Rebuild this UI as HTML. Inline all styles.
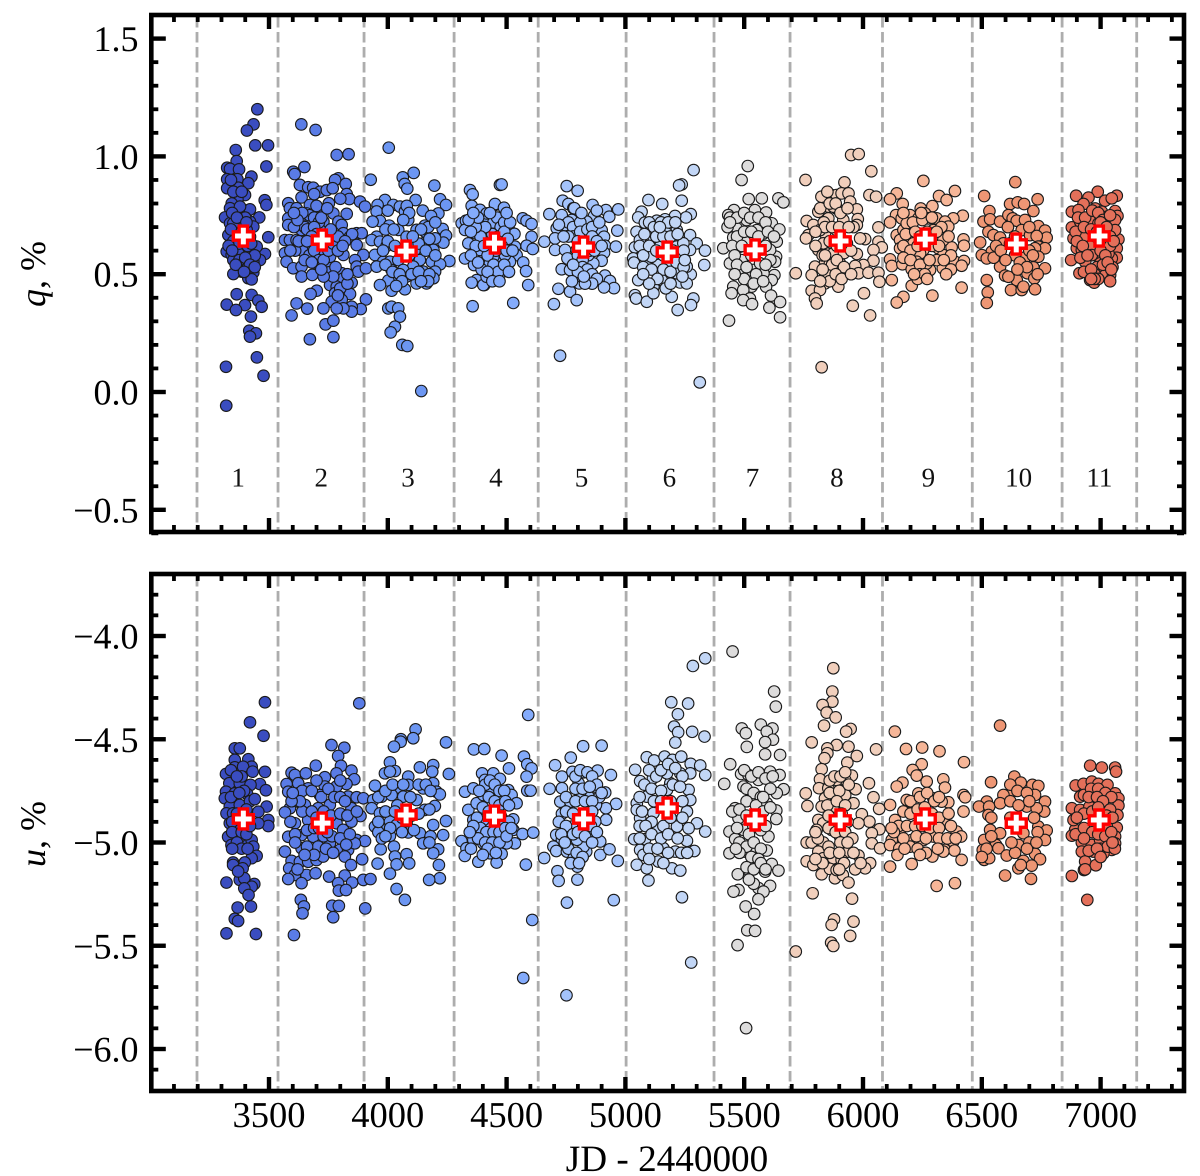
<!DOCTYPE html>
<html lang="en">
<head>
<meta charset="utf-8">
<title>q and u polarization versus JD</title>
<style>
html,body{margin:0;padding:0;background:#fff;}
svg{display:block;font-family:"Liberation Serif",serif;text-rendering:geometricPrecision;}
</style>
</head>
<body>
<svg id="chart" xmlns="http://www.w3.org/2000/svg" width="1200" height="1176" viewBox="0 0 1200 1176">
<rect width="1200" height="1176" fill="#fff"/>
<g id="season-lines"></g>
<g id="points"></g>
<g id="means"></g>
<g id="labels"></g>
<g id="axes"></g>
<rect x="151.3" y="15" width="1032.7" height="517" fill="none" stroke="#000" stroke-width="4.6"/>
<rect x="151.3" y="574" width="1032.7" height="517" fill="none" stroke="#000" stroke-width="4.6"/>
<text transform="translate(45,274) rotate(-90)" text-anchor="middle" font-size="36" fill="#000"><tspan font-style="italic">q</tspan>, %</text>
<text transform="translate(45,834) rotate(-90)" text-anchor="middle" font-size="36" fill="#000"><tspan font-style="italic">u</tspan>, %</text>
<text x="667" y="1171" text-anchor="middle" font-size="37.2" fill="#000">JD - 2440000</text>
</svg>
<script>
const xMajorTicks=[3500,4000,4500,5000,5500,6000,6500,7000];
const xMinorTicks=[3100,3200,3300,3400,3600,3700,3800,3900,4100,4200,4300,4400,4600,4700,4800,4900,5100,5200,5300,5400,5600,5700,5800,5900,6100,6200,6300,6400,6600,6700,6800,6900,7100,7200,7300];
const qMajorTicks=[1.5,1,0.5,0,-0.5];
const qTickLabels=['1.5','1.0','0.5','0.0','\u22120.5'];
const qMinorTicks=[1.4,1.3,1.2,1.1,0.9,0.8,0.7,0.6,0.4,0.3,0.2,0.1,-0.1,-0.2,-0.3,-0.4,-0.6];
const uMajorTicks=[-4,-4.5,-5,-5.5,-6];
const uTickLabels=['\u22124.0','\u22124.5','\u22125.0','\u22125.5','\u22126.0'];
const uMinorTicks=[-3.7,-3.8,-3.9,-4.1,-4.2,-4.3,-4.4,-4.6,-4.7,-4.8,-4.9,-5.1,-5.2,-5.3,-5.4,-5.6,-5.7,-5.8,-5.9,-6.1];
const seasonBoundaries=[3197,3538,3900,4279,4633,5003,5373,5693,6082,6460,6838,7152];
const seasonNames=['1','2','3','4','5','6','7','8','9','10','11'];
const seasonLabelJD=[3370,3720,4085,4455,4815,5185,5535,5890,6275,6655,6995];
const seasonLabelQ=-0.36;
const seasonColors=['#3a4dc0','#5a7ce6','#6c96f2','#84abfb','#a4c3fb','#c2d6f6','#dddcdc','#f1cfbc','#f6b698','#ee9674','#e4705a'];
const meanJD=[3392,3724,4077,4449,4824,5176,5546,5904,6262,6645,6994];
const meanQ=[0.662,0.645,0.598,0.632,0.615,0.594,0.603,0.641,0.649,0.628,0.662];
const meanU=[-4.886,-4.906,-4.867,-4.872,-4.886,-4.833,-4.891,-4.891,-4.886,-4.906,-4.891];

const qS1=[[3451,1.2],[3435,1.136],[3407,1.11],[3442,1.047],[3496,1.047],[3360,1.027],[3364,.98],[3324,.952],[3336,.947],[3374,.945],[3489,.957],[3426,.914],[3324,.903],[3367,.903],[3413,.886],[3324,.865],[3371,.867],[3399,.836],[3367,.818],[3482,.814],[3489,.794],[3343,.8],[3392,.773],[3420,.775],[3319,.741],[3459,.741],[3350,.758],[3336,.78],[3378,.787],[3315,.741],[3336,.716],[3329,.666],[3350,.688],[3420,.723],[3434,.702],[3378,.709],[3350,.716],[3406,.688],[3364,.659],[3392,.638],[3420,.659],[3336,.624],[3497,.657],[3322,.596],[3343,.582],[3357,.617],[3378,.56],[3406,.56],[3434,.61],[3483,.586],[3462,.56],[3399,.603],[3420,.589],[3371,.589],[3350,.56],[3448,.617],[3371,.532],[3434,.553],[3399,.532],[3385,.511],[3413,.511],[3434,.507],[3350,.501],[3413,.483],[3427,.478],[3364,.415],[3427,.412],[3322,.371],[3399,.369],[3361,.348],[3455,.388],[3469,.362],[3424,.32],[3417,.26],[3445,.249],[3420,.235],[3449,.147],[3319,.107],[3477,.069],[3320,-.058],[3340,.9],[3350,.85],[3385,.85],[3345,.76],[3400,.74],[3365,.74],[3340,.69],[3385,.68],[3405,.72],[3350,.64],[3375,.63],[3330,.62],[3410,.62],[3440,.58],[3375,.56],[3400,.57],[3360,.54],[3420,.54],[3395,.51],[3345,.6],[3440,.53],[3385,.66],[3425,.63]];
const qS2=[[3636,1.136],[3696,1.112],[3785,1.006],[3835,1.009],[3649,.955],[3602,.935],[3608,.925],[3792,.907],[3778,.9],[3823,.883],[3630,.879],[3665,.869],[3686,.867],[3715,.85],[3743,.857],[3768,.865],[3827,.84],[3637,.826],[3838,.819],[3883,.808],[3904,.787],[3581,.801],[3588,.78],[3616,.78],[3672,.794],[3752,.801],[3827,.756],[3771,.758],[3581,.737],[3581,.709],[3630,.737],[3701,.758],[3658,.758],[3672,.716],[3729,.723],[3792,.723],[3806,.709],[3567,.645],[3588,.645],[3616,.645],[3658,.659],[3693,.631],[3757,.624],[3813,.674],[3841,.659],[3869,.674],[3890,.674],[3869,.624],[3567,.589],[3574,.553],[3602,.525],[3637,.532],[3637,.49],[3616,.603],[3658,.589],[3701,.546],[3682,.497],[3750,.532],[3752,.508],[3813,.582],[3897,.582],[3862,.56],[3869,.532],[3876,.511],[3908,.525],[3806,.504],[3813,.482],[3848,.464],[3701,.43],[3675,.416],[3757,.454],[3785,.447],[3778,.419],[3841,.416],[3806,.391],[3764,.383],[3908,.393],[3886,.352],[3848,.362],[3848,.341],[3813,.355],[3785,.355],[3729,.355],[3661,.354],[3616,.376],[3595,.325],[3738,.287],[3771,.303],[3672,.224],[3771,.233],[3715,.589],[3757,.574],[3785,.603],[3743,.674],[3715,.688],[3637,.688],[3672,.617],[3729,.603],[3650,.7],[3670,.75],[3690,.74],[3710,.72],[3640,.76],[3660,.69],[3690,.7],[3700,.67],[3720,.74],[3680,.66],[3650,.62],[3640,.6],[3670,.58],[3690,.6],[3710,.56],[3730,.56],[3750,.6],[3770,.63],[3790,.66],[3760,.69],[3790,.6],[3610,.6],[3590,.6],[3605,.7],[3625,.64],[3780,.53],[3770,.49],[3800,.44],[3790,.41],[3730,.49],[3720,.52],[3650,.56],[3680,.55],[3830,.46],[3830,.5],[3850,.67],[3820,.64],[3810,.62],[3660,.64],[3700,.79],[3690,.84],[3800,.82],[3745,.78],[3620,.73],[3605,.76]];
const qS3=[[4004,1.037],[3928,.901],[4109,.93],[4063,.911],[4071,.883],[4082,.863],[4196,.876],[4117,.815],[3988,.815],[4023,.794],[4051,.787],[3957,.794],[4220,.818],[4245,.794],[4147,.77],[4213,.758],[4182,.747],[3953,.766],[3967,.726],[3936,.723],[4072,.766],[4086,.73],[4006,.706],[4156,.706],[4231,.692],[4156,.681],[4245,.664],[4234,.634],[4199,.652],[3953,.659],[3932,.645],[3967,.638],[3995,.62],[4044,.688],[4121,.688],[4079,.659],[4149,.631],[4192,.603],[4114,.603],[3946,.582],[3981,.553],[4009,.553],[3953,.532],[4044,.56],[4135,.56],[4185,.553],[4259,.556],[4220,.542],[4199,.511],[4192,.483],[4163,.461],[4121,.461],[4079,.49],[4044,.482],[4002,.473],[3967,.454],[4016,.43],[4072,.436],[4002,.355],[4016,.362],[4044,.355],[4051,.32],[4030,.277],[4012,.253],[4061,.2],[4082,.195],[4141,.004],[4016,.518],[4107,.532],[4149,.511],[4065,.518],[3990,.69],[4000,.64],[4030,.62],[4060,.6],[4100,.62],[4130,.63],[4160,.6],[4175,.65],[4080,.79],[4090,.76],[3990,.54],[4020,.51],[4050,.5],[4100,.5],[4130,.51],[4175,.5],[4170,.47],[4140,.47],[4060,.47],[4035,.45],[4000,.77],[4065,.73],[4170,.7],[4200,.58],[3980,.6],[4090,.58],[4140,.69],[4105,.66],[4025,.69],[4200,.72]];
const qS4=[[4346,.857],[4357,.839],[4353,.79],[4311,.716],[4329,.727],[4325,.688],[4388,.773],[4451,.794],[4472,.879],[4402,.73],[4367,.674],[4339,.631],[4416,.645],[4325,.567],[4363,.539],[4402,.56],[4444,.546],[4374,.475],[4353,.464],[4406,.454],[4357,.364],[4458,.475],[4479,.881],[4451,.798],[4489,.782],[4568,.737],[4584,.727],[4605,.713],[4511,.687],[4533,.671],[4605,.659],[4584,.621],[4610,.607],[4535,.617],[4542,.581],[4570,.55],[4582,.513],[4591,.454],[4528,.378],[4489,.513],[4402,.454],[4444,.475],[4416,.758],[4472,.73],[4500,.617],[4430,.546],[4514,.553],[4472,.546],[4395,.702],[4458,.695],[4388,.603],[4416,.489],[4472,.504],[4444,.574],[4493,.581],[4430,.7],[4445,.72],[4460,.74],[4475,.7],[4490,.72],[4440,.67],[4465,.66],[4490,.68],[4505,.65],[4430,.62],[4455,.6],[4480,.62],[4500,.6],[4420,.58],[4445,.54],[4465,.51],[4490,.54],[4410,.7],[4390,.66],[4370,.7],[4350,.68],[4370,.62],[4350,.58],[4395,.52],[4380,.55],[4420,.51],[4515,.72],[4500,.76],[4380,.74],[4430,.76],[4440,.47],[4470,.47],[4510,.51],[4525,.6],[4405,.62],[4340,.73],[4360,.76]];
const qS5=[[4753,.874],[4799,.854],[4736,.812],[4760,.798],[4781,.78],[4680,.755],[4862,.794],[4918,.772],[4970,.775],[4932,.744],[4868,.747],[4795,.755],[4732,.751],[4711,.695],[4746,.709],[4879,.702],[4966,.685],[4900,.687],[4659,.638],[4704,.652],[4795,.673],[4837,.659],[4910,.659],[4914,.621],[4960,.617],[4704,.603],[4746,.603],[4910,.591],[4756,.567],[4900,.557],[4732,.521],[4823,.518],[4914,.494],[4935,.471],[4952,.441],[4910,.444],[4854,.472],[4806,.461],[4767,.426],[4718,.438],[4795,.39],[4699,.373],[4725,.154],[4788,.489],[4865,.546],[4809,.553],[4865,.631],[4795,.603],[4830,.489],[4767,.518],[4774,.73],[4837,.723],[4844,.581],[4760,.72],[4780,.7],[4810,.72],[4780,.66],[4810,.68],[4840,.69],[4860,.7],[4890,.72],[4760,.66],[4740,.66],[4720,.71],[4800,.64],[4830,.62],[4860,.66],[4880,.64],[4800,.58],[4820,.56],[4850,.6],[4870,.6],[4820,.53],[4840,.52],[4800,.51],[4780,.54],[4860,.5],[4880,.48],[4785,.78],[4815,.76],[4880,.77],[4900,.62],[4860,.46],[4830,.46],[4775,.47],[4825,.49]];
const qS6=[[5287,.942],[5237,.881],[5226,.877],[5097,.815],[5237,.812],[5155,.798],[5068,.765],[5054,.741],[5275,.755],[5255,.741],[5209,.747],[5167,.733],[5132,.727],[5082,.719],[5216,.687],[5047,.68],[5104,.68],[5272,.666],[5040,.614],[5090,.617],[5300,.631],[5335,.6],[5033,.567],[5036,.549],[5332,.539],[5272,.603],[5090,.535],[5139,.539],[5275,.499],[5258,.532],[5054,.475],[5230,.465],[5258,.461],[5174,.489],[5118,.447],[5040,.411],[5045,.397],[5090,.383],[5195,.404],[5118,.419],[5286,.397],[5276,.369],[5220,.348],[5313,.041],[5146,.617],[5216,.617],[5188,.546],[5118,.659],[5174,.673],[5244,.631],[5230,.56],[5153,.475],[5216,.504],[5110,.574],[5061,.645],[5100,.72],[5120,.7],[5150,.72],[5180,.72],[5210,.72],[5080,.67],[5130,.66],[5160,.66],[5190,.66],[5220,.67],[5060,.62],[5075,.58],[5100,.62],[5130,.6],[5160,.58],[5200,.6],[5245,.6],[5075,.53],[5110,.52],[5160,.52],[5190,.51],[5215,.55],[5245,.53],[5135,.48],[5170,.44],[5190,.46],[5240,.49],[5100,.46],[5075,.5],[5145,.7],[5250,.56]];
const qS7=[[5515,.959],[5489,.9],[5644,.822],[5665,.805],[5519,.819],[5574,.822],[5457,.772],[5433,.751],[5545,.772],[5592,.762],[5616,.716],[5648,.69],[5468,.695],[5510,.73],[5454,.656],[5412,.61],[5503,.638],[5637,.638],[5581,.673],[5440,.546],[5634,.574],[5630,.553],[5489,.56],[5538,.518],[5627,.496],[5616,.475],[5482,.504],[5581,.504],[5531,.447],[5454,.447],[5447,.419],[5496,.433],[5592,.447],[5613,.409],[5524,.397],[5496,.39],[5533,.373],[5651,.382],[5606,.358],[5651,.317],[5436,.303],[5553,.687],[5482,.617],[5609,.603],[5567,.546],[5524,.489],[5468,.631],[5440,.74],[5470,.74],[5500,.76],[5525,.74],[5560,.74],[5590,.72],[5470,.66],[5500,.68],[5530,.68],[5560,.66],[5600,.68],[5450,.62],[5460,.58],[5490,.62],[5530,.58],[5590,.62],[5610,.56],[5470,.54],[5510,.53],[5550,.5],[5590,.54],[5500,.48],[5540,.46],[5580,.47],[5460,.5],[5625,.66],[5430,.7],[5440,.72]];
const qS8=[[5950,1.006],[5982,1.01],[6035,.937],[5758,.9],[5922,.89],[6027,.836],[6055,.829],[5825,.829],[5868,.836],[5889,.836],[5910,.843],[5939,.843],[5946,.808],[5974,.775],[5812,.765],[5889,.779],[5854,.787],[5978,.734],[5763,.726],[5854,.737],[5917,.73],[5974,.709],[6065,.699],[5791,.709],[5770,.666],[5760,.652],[5840,.673],[6009,.649],[5988,.652],[6065,.638],[6079,.614],[5812,.603],[6044,.603],[5974,.586],[5847,.588],[5875,.588],[6044,.557],[5840,.546],[5798,.532],[6002,.539],[5967,.535],[5981,.504],[6023,.506],[6065,.506],[6069,.468],[5717,.504],[5784,.496],[5847,.504],[5896,.482],[5932,.504],[5840,.461],[5784,.43],[5819,.433],[5896,.447],[5798,.397],[5805,.376],[6004,.419],[5957,.366],[6030,.325],[5826,.105],[5875,.787],[5819,.687],[5889,.687],[5932,.631],[5833,.631],[5861,.546],[5903,.546],[5820,.78],[5835,.72],[5860,.8],[5885,.8],[5905,.76],[5935,.78],[5960,.7],[5840,.7],[5870,.7],[5900,.7],[5940,.7],[5800,.68],[5800,.62],[5830,.58],[5860,.64],[5890,.62],[5920,.59],[5950,.6],[5840,.58],[5870,.54],[5890,.56],[5920,.53],[5830,.52],[5860,.47],[5885,.5],[5910,.48],[5950,.5],[5820,.47],[5850,.85]];
const qS9=[[6254,.896],[6387,.853],[6320,.832],[6352,.815],[6142,.843],[6114,.818],[6167,.798],[6292,.789],[6243,.779],[6261,.758],[6420,.748],[6380,.737],[6139,.751],[6114,.72],[6163,.737],[6198,.751],[6233,.737],[6275,.737],[6310,.737],[6345,.723],[6359,.702],[6142,.666],[6156,.645],[6198,.659],[6170,.687],[6423,.648],[6425,.621],[6373,.614],[6156,.61],[6254,.603],[6338,.645],[6317,.61],[6338,.581],[6114,.563],[6121,.535],[6166,.542],[6240,.588],[6226,.553],[6387,.553],[6425,.556],[6415,.536],[6282,.518],[6336,.525],[6233,.511],[6205,.521],[6121,.475],[6205,.451],[6415,.443],[6170,.404],[6142,.38],[6292,.409],[6184,.716],[6212,.631],[6296,.687],[6310,.56],[6268,.546],[6170,.76],[6210,.72],[6250,.73],[6290,.74],[6330,.7],[6180,.67],[6220,.68],[6240,.66],[6270,.68],[6310,.68],[6360,.66],[6170,.62],[6200,.6],[6230,.62],[6290,.62],[6320,.62],[6370,.58],[6170,.57],[6200,.56],[6240,.54],[6280,.56],[6340,.56],[6370,.52],[6240,.5],[6230,.48],[6260,.5],[6270,.48],[6350,.5],[6215,.5],[6245,.76]];
const qS10=[[6641,.891],[6510,.832],[6735,.818],[6619,.798],[6651,.805],[6678,.798],[6717,.768],[6532,.768],[6507,.723],[6535,.733],[6577,.723],[6612,.751],[6630,.737],[6647,.727],[6682,.73],[6738,.704],[6766,.685],[6773,.655],[6528,.68],[6549,.666],[6493,.635],[6577,.656],[6668,.687],[6703,.666],[6731,.662],[6738,.617],[6766,.61],[6542,.596],[6500,.581],[6521,.567],[6591,.631],[6619,.631],[6724,.61],[6682,.571],[6738,.574],[6766,.525],[6577,.532],[6598,.494],[6717,.529],[6692,.504],[6721,.482],[6647,.475],[6521,.475],[6525,.423],[6521,.378],[6623,.433],[6668,.433],[6724,.436],[6612,.489],[6675,.447],[6610,.7],[6640,.66],[6700,.7],[6640,.58],[6700,.6],[6715,.58],[6660,.55],[6560,.62],[6550,.57],[6580,.6],[6690,.53],[6650,.52],[6735,.5],[6600,.56]];
const qS11=[[6988,.85],[6897,.833],[6949,.825],[7019,.812],[7068,.833],[7047,.822],[7061,.768],[7071,.747],[6879,.765],[6928,.798],[6977,.779],[7005,.765],[6879,.699],[6914,.723],[6956,.737],[7047,.695],[7061,.73],[6886,.652],[6900,.61],[7075,.648],[7068,.61],[7068,.57],[7047,.567],[7019,.631],[6991,.588],[6956,.617],[6928,.659],[6876,.56],[6911,.504],[6946,.525],[7040,.496],[7026,.489],[6956,.475],[6973,.464],[6998,.546],[6963,.581],[7026,.532],[7061,.687],[6935,.553],[6991,.716],[6907,.772],[7026,.744],[7033,.588],[6921,.603],[7005,.504],[6905,.74],[6935,.74],[6965,.77],[6990,.76],[7010,.73],[7040,.75],[6895,.68],[6930,.7],[6960,.69],[6985,.68],[7000,.72],[7025,.7],[7040,.66],[6900,.64],[6925,.62],[7040,.62],[7055,.64],[6915,.57],[6945,.58],[7000,.6],[7020,.58],[7050,.53],[6930,.51],[6985,.53],[7010,.54],[7030,.55],[6975,.5],[7045,.52],[6960,.52],[6990,.48],[6975,.48],[6960,.48],[7040,.47]];

const uS1=[[3483,-4.321],[3420,-4.418],[3477,-4.483],[3356,-4.544],[3377,-4.544],[3356,-4.6],[3413,-4.597],[3427,-4.633],[3319,-4.668],[3356,-4.636],[3483,-4.658],[3391,-4.633],[3431,-4.657],[3333,-4.713],[3377,-4.713],[3462,-4.717],[3422,-4.721],[3487,-4.747],[3319,-4.754],[3356,-4.762],[3408,-4.765],[3314,-4.786],[3490,-4.826],[3335,-4.826],[3377,-4.818],[3455,-4.851],[3321,-4.859],[3497,-4.891],[3497,-4.92],[3455,-4.907],[3335,-4.907],[3349,-4.859],[3391,-4.891],[3363,-4.939],[3398,-5.004],[3328,-4.972],[3377,-4.972],[3427,-4.988],[3342,-5.012],[3434,-5.02],[3448,-5.065],[3427,-5.076],[3349,-5.097],[3398,-5.097],[3349,-5.109],[3389,-5.125],[3377,-5.181],[3396,-5.173],[3321,-5.194],[3438,-5.201],[3427,-5.214],[3396,-5.222],[3414,-5.254],[3368,-5.315],[3424,-5.31],[3356,-5.37],[3370,-5.38],[3321,-5.44],[3445,-5.443],[3340,-4.65],[3385,-4.68],[3340,-4.78],[3395,-4.75],[3375,-4.76],[3345,-4.9],[3365,-4.86],[3345,-4.95],[3385,-4.95],[3365,-5.0],[3385,-5.03],[3405,-4.96],[3420,-4.8],[3405,-4.84],[3420,-4.92],[3365,-4.68],[3345,-5.03],[3370,-5.14],[3440,-4.79],[3410,-5.03]];
const uS2=[[3880,-4.326],[3763,-4.528],[3817,-4.541],[3791,-4.581],[3697,-4.628],[3803,-4.629],[3595,-4.662],[3609,-4.673],[3655,-4.665],[3847,-4.652],[3784,-4.665],[3859,-4.694],[3574,-4.717],[3735,-4.684],[3826,-4.717],[3581,-4.754],[3623,-4.713],[3665,-4.738],[3784,-4.729],[3623,-4.762],[3735,-4.729],[3714,-4.77],[3588,-4.834],[3567,-4.854],[3623,-4.802],[3756,-4.818],[3833,-4.778],[3869,-4.781],[3897,-4.786],[3651,-4.818],[3707,-4.834],[3847,-4.834],[3812,-4.867],[3885,-4.872],[3609,-4.907],[3665,-4.891],[3784,-4.907],[3847,-4.899],[3581,-4.972],[3637,-4.964],[3686,-4.972],[3756,-5.004],[3812,-4.939],[3869,-4.988],[3904,-4.993],[3567,-5.044],[3637,-5.028],[3707,-5.02],[3798,-5.036],[3833,-5.036],[3861,-5.004],[3595,-5.089],[3630,-5.093],[3665,-5.093],[3700,-5.085],[3728,-5.068],[3819,-5.068],[3892,-5.081],[3585,-5.125],[3845,-5.109],[3609,-5.157],[3581,-5.177],[3658,-5.157],[3696,-5.149],[3753,-5.165],[3819,-5.16],[3637,-5.197],[3791,-5.197],[3850,-5.194],[3897,-5.181],[3927,-5.177],[3794,-5.233],[3824,-5.23],[3634,-5.278],[3647,-5.31],[3641,-5.343],[3766,-5.306],[3794,-5.307],[3770,-5.362],[3605,-5.448],[3905,-5.319],[3640,-4.75],[3680,-4.75],[3700,-4.7],[3720,-4.78],[3750,-4.74],[3775,-4.78],[3800,-4.78],[3820,-4.8],[3640,-4.85],[3680,-4.85],[3700,-4.88],[3730,-4.85],[3760,-4.87],[3800,-4.86],[3830,-4.87],[3870,-4.85],[3610,-4.96],[3660,-4.94],[3690,-4.93],[3730,-4.97],[3765,-4.97],[3800,-4.98],[3840,-4.96],[3610,-5.0],[3660,-5.02],[3690,-5.06],[3740,-5.03],[3770,-5.05],[3650,-5.06],[3630,-4.8],[3595,-4.8],[3590,-4.9],[3600,-4.76],[3710,-4.93],[3825,-5.01],[3620,-5.13],[3800,-4.7],[3745,-4.95]];
const uS3=[[4117,-4.452],[4107,-4.495],[4055,-4.5],[4054,-4.512],[4026,-4.536],[4245,-4.515],[4009,-4.612],[4135,-4.636],[4191,-4.625],[4187,-4.657],[4257,-4.668],[4030,-4.654],[3988,-4.665],[4009,-4.657],[4086,-4.681],[3946,-4.725],[4044,-4.733],[4086,-4.721],[4149,-4.738],[4191,-4.713],[4205,-4.754],[4219,-4.767],[3974,-4.778],[4016,-4.77],[3939,-4.794],[4065,-4.778],[4121,-4.794],[4198,-4.823],[4156,-4.842],[3932,-4.834],[3967,-4.859],[4009,-4.899],[4079,-4.907],[3946,-4.923],[3988,-4.939],[4037,-4.915],[4086,-4.951],[4245,-4.896],[4191,-4.915],[4135,-4.955],[4233,-4.964],[4009,-4.968],[4149,-5.004],[4026,-5.02],[4212,-5.033],[3970,-5.033],[4191,-5.052],[4030,-5.068],[4079,-5.057],[4090,-5.101],[4037,-5.106],[3957,-5.102],[4215,-5.109],[4009,-5.151],[4219,-5.173],[4174,-5.181],[4037,-5.225],[4072,-5.278],[3960,-4.78],[3990,-4.75],[4020,-4.72],[4040,-4.82],[4065,-4.72],[4095,-4.78],[4130,-4.72],[4160,-4.72],[4180,-4.75],[3990,-4.85],[4030,-4.85],[4060,-4.88],[4100,-4.87],[4130,-4.86],[4175,-4.84],[3960,-4.95],[4010,-4.93],[4060,-4.95],[3960,-4.9],[3975,-4.98],[4110,-4.94],[3990,-4.97],[4180,-4.97],[4175,-5.0]];
const uS4=[[4591,-4.382],[4362,-4.549],[4406,-4.547],[4479,-4.579],[4397,-4.665],[4510,-4.641],[4444,-4.665],[4472,-4.692],[4573,-4.584],[4587,-4.621],[4605,-4.641],[4584,-4.681],[4409,-4.697],[4325,-4.754],[4360,-4.738],[4507,-4.746],[4521,-4.77],[4587,-4.749],[4601,-4.749],[4542,-4.81],[4339,-4.842],[4374,-4.81],[4402,-4.77],[4360,-4.891],[4528,-4.888],[4528,-4.939],[4567,-4.959],[4612,-4.952],[4535,-5.004],[4310,-4.993],[4360,-4.988],[4331,-5.028],[4324,-5.065],[4381,-5.093],[4402,-5.004],[4479,-5.055],[4458,-5.097],[4430,-5.052],[4581,-5.107],[4608,-5.375],[4570,-5.656],[4458,-4.826],[4430,-4.923],[4486,-4.891],[4402,-4.891],[4437,-4.762],[4500,-5.004],[4410,-4.72],[4430,-4.7],[4450,-4.72],[4470,-4.75],[4490,-4.75],[4425,-4.78],[4450,-4.8],[4470,-4.82],[4495,-4.8],[4510,-4.82],[4375,-4.88],[4400,-4.83],[4425,-4.85],[4450,-4.88],[4475,-4.87],[4510,-4.9],[4390,-4.93],[4415,-4.95],[4445,-4.95],[4470,-4.95],[4495,-4.93],[4380,-4.98],[4410,-5.0],[4440,-5.0],[4470,-5.0],[4500,-4.97],[4360,-4.92],[4345,-4.95],[4420,-5.03],[4455,-5.05],[4385,-4.75],[4520,-4.93],[4350,-5.03],[4400,-5.06]];
const uS5=[[4822,-4.534],[4900,-4.531],[4770,-4.589],[4704,-4.626],[4733,-4.681],[4777,-4.658],[4824,-4.66],[4883,-4.652],[4939,-4.673],[4681,-4.74],[4733,-4.737],[4803,-4.713],[4873,-4.729],[4915,-4.758],[4961,-4.813],[4726,-4.802],[4768,-4.802],[4918,-4.834],[4876,-4.818],[4733,-4.861],[4919,-4.89],[4709,-4.963],[4733,-4.987],[4894,-4.995],[4697,-5.02],[4709,-5.041],[4754,-5.044],[4894,-5.06],[4933,-5.033],[4835,-5.044],[4658,-5.075],[4798,-5.117],[4782,-5.076],[4968,-5.089],[4714,-5.139],[4719,-5.186],[4798,-5.18],[4754,-5.291],[4951,-5.279],[4752,-5.74],[4810,-4.923],[4775,-4.923],[4852,-4.971],[4824,-5.02],[4796,-4.987],[4873,-4.899],[4845,-4.778],[4810,-4.778],[4790,-4.68],[4810,-4.65],[4840,-4.66],[4860,-4.68],[4880,-4.72],[4790,-4.74],[4820,-4.74],[4850,-4.73],[4890,-4.78],[4750,-4.78],[4790,-4.8],[4830,-4.8],[4860,-4.8],[4900,-4.76],[4750,-4.85],[4780,-4.86],[4860,-4.85],[4720,-4.9],[4750,-4.92],[4780,-4.96],[4800,-4.95],[4830,-4.97],[4855,-4.92],[4730,-4.96],[4760,-5.03],[4795,-5.05],[4820,-5.07],[4770,-5.1],[4745,-5.0],[4860,-5.0],[4880,-4.95],[4805,-5.1]];
const uS6=[[5336,-4.108],[5284,-4.145],[5193,-4.321],[5264,-4.327],[5221,-4.379],[5205,-4.439],[5222,-4.466],[5281,-4.464],[5333,-4.487],[5210,-4.516],[5090,-4.587],[5121,-4.603],[5165,-4.584],[5198,-4.6],[5235,-4.584],[5275,-4.619],[5315,-4.627],[5041,-4.648],[5273,-4.665],[5336,-4.673],[5062,-4.703],[5116,-4.689],[5189,-4.713],[5231,-4.665],[5266,-4.745],[5175,-4.665],[5048,-4.81],[5090,-4.778],[5273,-4.794],[5062,-4.882],[5259,-4.85],[5301,-4.907],[5336,-4.947],[5048,-4.842],[5266,-4.931],[5037,-4.984],[5083,-4.984],[5132,-4.939],[5259,-4.992],[5290,-5.041],[5160,-5.028],[5062,-5.036],[5076,-5.06],[5048,-5.108],[5090,-5.125],[5210,-5.044],[5139,-5.092],[5196,-5.125],[5231,-5.136],[5097,-5.184],[5238,-5.265],[5277,-5.581],[5160,-4.826],[5217,-4.923],[5118,-4.858],[5175,-4.745],[5100,-4.65],[5130,-4.68],[5150,-4.65],[5180,-4.62],[5210,-4.64],[5240,-4.68],[5080,-4.72],[5110,-4.74],[5150,-4.75],[5200,-4.72],[5230,-4.73],[5060,-4.78],[5120,-4.8],[5150,-4.8],[5190,-4.8],[5240,-4.8],[5070,-4.85],[5110,-4.9],[5160,-4.92],[5190,-4.88],[5240,-4.88],[5060,-4.92],[5085,-4.92],[5110,-4.96],[5150,-4.98],[5180,-4.96],[5220,-4.98],[5100,-5.03],[5135,-5.03],[5180,-5.05],[5235,-5.05],[5260,-5.05],[5100,-5.08],[5160,-5.1],[5060,-4.98]];
const uS7=[[5451,-4.075],[5626,-4.269],[5633,-4.342],[5570,-4.429],[5490,-4.448],[5507,-4.471],[5619,-4.448],[5595,-4.463],[5621,-4.502],[5588,-4.514],[5511,-4.537],[5588,-4.573],[5651,-4.576],[5441,-4.621],[5416,-4.716],[5487,-4.668],[5518,-4.673],[5560,-4.697],[5609,-4.657],[5649,-4.673],[5666,-4.742],[5497,-4.729],[5532,-4.77],[5595,-4.81],[5637,-4.761],[5462,-4.834],[5635,-4.845],[5476,-4.882],[5635,-4.886],[5602,-4.971],[5438,-4.947],[5462,-4.983],[5438,-5.052],[5504,-5.044],[5546,-5.02],[5595,-5.039],[5616,-5.104],[5644,-5.136],[5588,-5.141],[5518,-5.133],[5473,-5.154],[5476,-5.23],[5455,-5.238],[5609,-5.21],[5560,-5.221],[5581,-5.238],[5560,-5.275],[5506,-5.31],[5542,-5.346],[5513,-5.425],[5546,-5.428],[5472,-5.497],[5508,-5.899],[5497,-4.939],[5539,-4.923],[5500,-4.65],[5530,-4.68],[5560,-4.66],[5590,-4.69],[5620,-4.68],[5510,-4.74],[5540,-4.76],[5570,-4.78],[5610,-4.74],[5510,-4.8],[5550,-4.82],[5580,-4.78],[5450,-4.85],[5480,-4.84],[5510,-4.87],[5580,-4.85],[5610,-4.83],[5470,-4.93],[5520,-4.96],[5570,-4.94],[5590,-4.92],[5480,-5.0],[5510,-5.02],[5540,-5.0],[5570,-5.03],[5480,-5.05],[5530,-5.07],[5560,-5.08],[5510,-5.12],[5540,-5.13],[5570,-5.1],[5540,-5.2],[5520,-5.18],[5590,-5.13],[5465,-5.03]];
const uS8=[[5875,-4.156],[5871,-4.269],[5871,-4.318],[5830,-4.334],[5847,-4.371],[5885,-4.394],[5836,-4.434],[5948,-4.45],[5929,-4.463],[5784,-4.515],[5939,-4.536],[5889,-4.528],[5850,-4.544],[5850,-4.568],[6055,-4.549],[5838,-4.592],[5974,-4.581],[5934,-4.613],[5826,-4.645],[5819,-4.694],[5953,-4.676],[5925,-4.697],[5889,-4.697],[5815,-4.737],[6025,-4.713],[5969,-4.742],[5759,-4.762],[5854,-4.737],[5840,-4.786],[6044,-4.781],[5925,-4.77],[5766,-4.823],[5826,-4.826],[5875,-4.826],[6068,-4.837],[5960,-4.81],[5995,-4.863],[5812,-4.891],[6027,-4.899],[5981,-4.907],[5833,-4.907],[6069,-4.936],[6037,-4.955],[5805,-4.939],[5868,-4.939],[5903,-4.971],[5763,-5.0],[5784,-5.0],[5833,-5.0],[6037,-5.004],[6072,-5.028],[5812,-5.044],[5939,-5.044],[5981,-5.063],[5763,-5.091],[5791,-5.109],[5833,-5.076],[5875,-5.076],[6030,-5.1],[6009,-5.125],[5910,-5.084],[5967,-5.13],[5826,-5.154],[5861,-5.128],[5882,-5.173],[5915,-5.157],[5939,-5.194],[5788,-5.246],[5954,-5.272],[5878,-5.372],[5868,-5.399],[5960,-5.383],[5946,-5.452],[5866,-5.485],[5875,-5.501],[5889,-5.133],[5717,-5.528],[5860,-4.7],[5880,-4.68],[5905,-4.68],[5925,-4.66],[5860,-4.76],[5900,-4.75],[5940,-4.72],[5850,-4.82],[5890,-4.8],[5925,-4.82],[5855,-4.87],[5910,-4.86],[5935,-4.9],[5855,-4.93],[5885,-4.95],[5925,-4.95],[5955,-4.98],[5855,-5.02],[5905,-5.0],[5935,-5.0],[5810,-4.98],[5800,-4.95],[5860,-5.05],[5900,-5.05],[5920,-5.1],[5960,-5.05],[5830,-5.1],[5900,-5.13],[5990,-5.1],[5800,-5.08]];
const uS9=[[6134,-4.463],[6181,-4.547],[6249,-4.54],[6322,-4.558],[6425,-4.611],[6247,-4.621],[6209,-4.649],[6226,-4.676],[6166,-4.71],[6142,-4.729],[6268,-4.705],[6338,-4.694],[6345,-4.734],[6423,-4.77],[6430,-4.781],[6359,-4.805],[6331,-4.802],[6114,-4.818],[6184,-4.794],[6296,-4.786],[6233,-4.762],[6423,-4.85],[6135,-4.891],[6212,-4.842],[6156,-4.939],[6205,-4.988],[6121,-4.988],[6345,-4.907],[6394,-4.947],[6413,-4.971],[6296,-4.971],[6345,-5.036],[6380,-4.996],[6385,-5.039],[6114,-5.012],[6153,-5.028],[6198,-5.02],[6145,-5.06],[6292,-5.068],[6338,-5.044],[6415,-5.084],[6114,-5.117],[6205,-5.104],[6310,-5.21],[6387,-5.197],[6254,-4.988],[6282,-4.875],[6200,-4.8],[6240,-4.78],[6270,-4.76],[6300,-4.8],[6320,-4.78],[6170,-4.85],[6200,-4.86],[6230,-4.84],[6260,-4.83],[6290,-4.86],[6320,-4.88],[6360,-4.86],[6150,-4.92],[6185,-4.92],[6220,-4.92],[6250,-4.92],[6280,-4.93],[6320,-4.93],[6370,-4.92],[6170,-4.98],[6225,-4.97],[6265,-4.98],[6320,-4.98],[6355,-4.98],[6175,-5.03],[6230,-5.03],[6265,-5.05],[6315,-5.03],[6240,-5.06],[6130,-4.95],[6120,-4.93],[6390,-4.98]];
const uS10=[[6577,-4.434],[6539,-4.708],[6637,-4.681],[6664,-4.71],[6713,-4.721],[6738,-4.726],[6626,-4.754],[6591,-4.77],[6521,-4.802],[6488,-4.826],[6531,-4.826],[6577,-4.81],[6766,-4.802],[6724,-4.77],[6689,-4.826],[6763,-4.85],[6528,-4.867],[6731,-4.834],[6535,-4.939],[6738,-4.923],[6773,-4.942],[6766,-4.988],[6577,-4.955],[6675,-4.955],[6654,-5.012],[6510,-4.988],[6504,-5.036],[6560,-5.012],[6570,-5.028],[6605,-5.063],[6510,-5.084],[6531,-5.076],[6724,-5.055],[6745,-5.081],[6675,-5.089],[6710,-5.112],[6654,-5.125],[6664,-5.109],[6598,-5.16],[6707,-5.176],[6620,-4.72],[6650,-4.75],[6690,-4.76],[6620,-4.8],[6655,-4.82],[6700,-4.8],[6540,-4.88],[6620,-4.88],[6720,-4.88],[6735,-4.95],[6700,-5.0],[6540,-4.97],[6690,-5.03],[6640,-5.05],[6625,-5.0],[6520,-5.03],[6730,-5.0],[6500,-5.07]];
const uS11=[[6956,-4.628],[7005,-4.637],[7061,-4.637],[7065,-4.657],[6895,-4.724],[6928,-4.716],[6963,-4.705],[6991,-4.716],[7029,-4.721],[7061,-4.762],[6914,-4.778],[6973,-4.778],[7075,-4.786],[6879,-4.834],[7075,-4.821],[6914,-4.842],[7012,-4.826],[7071,-4.867],[6953,-4.826],[7068,-4.928],[6893,-4.939],[6879,-4.967],[6956,-4.939],[7026,-4.923],[7061,-4.971],[7061,-5.004],[6921,-5.0],[6963,-5.012],[7047,-5.036],[6921,-5.044],[6970,-5.044],[7012,-5.052],[6935,-5.092],[6980,-5.11],[6930,-5.133],[6879,-5.162],[6944,-5.278],[6998,-4.988],[6886,-4.891],[6930,-4.77],[6960,-4.74],[6990,-4.74],[7020,-4.76],[7045,-4.78],[6950,-4.78],[6985,-4.78],[7010,-4.8],[7040,-4.84],[6930,-4.86],[6965,-4.85],[6990,-4.83],[7025,-4.87],[7050,-4.88],[6900,-4.88],[6895,-4.96],[6930,-4.93],[6965,-4.95],[6990,-4.96],[7020,-4.97],[7045,-4.95],[6930,-4.98],[7000,-5.03],[7030,-5.02],[7060,-5.03],[6950,-5.04],[6985,-5.03],[7050,-5.0],[6935,-5.13],[7000,-5.07]];

const qSeasons=[qS1,qS2,qS3,qS4,qS5,qS6,qS7,qS8,qS9,qS10,qS11];
const uSeasons=[uS1,uS2,uS3,uS4,uS5,uS6,uS7,uS8,uS9,uS10,uS11];

const NS='http://www.w3.org/2000/svg';
function xAxis(jd){return 269+(jd-3500)*0.2376;}
function yQ(q){return 392-q*235.6;}
function yU(u){return 636+(-4-u)*206.5;}
function make(tag,parent,attrs){
  const el=document.createElementNS(NS,tag);
  for(const k in attrs){el.setAttribute(k,attrs[k]);}
  parent.appendChild(el);
  return el;
}
const linesG=document.getElementById('season-lines');
const pointsG=document.getElementById('points');
const meansG=document.getElementById('means');
const labelsG=document.getElementById('labels');
const axesG=document.getElementById('axes');

seasonBoundaries.forEach(function(jd){
  [[17,530],[576,1089]].forEach(function(span){
    const line=make('line',linesG,{x1:xAxis(jd),x2:xAxis(jd),y1:span[0],y2:span[1],stroke:'#adadad','stroke-width':2.8,'stroke-dasharray':'10.5 4.5'});
    
    
  });
});

function drawPoints(seasons,yFn,name){
  seasons.forEach(function(pts,i){
    pts.forEach(function(p){
      const c=make('circle',pointsG,{cx:xAxis(p[0]),cy:yFn(p[1]),r:5.8,fill:seasonColors[i],stroke:'#1a1a1a','stroke-width':1.1});
      
      
    });
  });
}
drawPoints(qSeasons,yQ,'q-data-point');
drawPoints(uSeasons,yU,'u-data-point');

function plusPoints(cx,cy){
  const a=10,b=4.2;
  return [[-b,-a],[b,-a],[b,-b],[a,-b],[a,b],[b,b],[b,a],[-b,a],[-b,b],[-a,b],[-a,-b],[-b,-b]].map(function(p){return (cx+p[0])+','+(cy+p[1]);}).join(' ');
}
function drawMeans(values,yFn,name){
  meanJD.forEach(function(jd,i){
    const m=make('polygon',meansG,{points:plusPoints(xAxis(jd),yFn(values[i])),fill:'#fff',stroke:'#f00','stroke-width':3.4,'stroke-linejoin':'miter'});
    
    
  });
}
drawMeans(meanQ,yQ,'q-season-mean');
drawMeans(meanU,yU,'u-season-mean');

seasonNames.forEach(function(n,i){
  const t=make('text',labelsG,{x:xAxis(seasonLabelJD[i]),y:yQ(seasonLabelQ)+9.5,'text-anchor':'middle','font-size':27,fill:'#111'});
  t.textContent=n;
  
  
});

function tickLine(x1,y1,x2,y2,w,name){
  const l=make('line',axesG,{x1:x1,y1:y1,x2:x2,y2:y2,stroke:'#000','stroke-width':w});
  
  
}
const leftX=151.3,rightX=1184;
[[15,532],[574,1091]].forEach(function(panel){
  xMajorTicks.forEach(function(v){
    tickLine(xAxis(v),panel[0],xAxis(v),panel[0]+14,4.4,'x-major-tick');
    tickLine(xAxis(v),panel[1],xAxis(v),panel[1]-14,4.4,'x-major-tick');
  });
  xMinorTicks.forEach(function(v){
    tickLine(xAxis(v),panel[0],xAxis(v),panel[0]+7,3.8,'x-minor-tick');
    tickLine(xAxis(v),panel[1],xAxis(v),panel[1]-7,3.8,'x-minor-tick');
  });
});
function drawYTicks(major,minor,labels,yFn,name){
  major.forEach(function(v,i){
    tickLine(leftX,yFn(v),leftX+14.5,yFn(v),4.4,name+'-major-tick');
    tickLine(rightX,yFn(v),rightX-14.5,yFn(v),4.4,name+'-major-tick');
    const t=make('text',axesG,{x:138.5,y:yFn(v)+12.5,'text-anchor':'end','font-size':36,fill:'#000'});
    t.textContent=labels[i];
    
    
  });
  minor.forEach(function(v){
    tickLine(leftX,yFn(v),leftX+7,yFn(v),3.8,name+'-minor-tick');
    tickLine(rightX,yFn(v),rightX-7,yFn(v),3.8,name+'-minor-tick');
  });
}
drawYTicks(qMajorTicks,qMinorTicks,qTickLabels,yQ,'q');
drawYTicks(uMajorTicks,uMinorTicks,uTickLabels,yU,'u');
xMajorTicks.forEach(function(v){
  const t=make('text',axesG,{x:xAxis(v),y:1127,'text-anchor':'middle','font-size':36.5,fill:'#000'});
  t.textContent=String(v);
  
  
});
</script>
</body>
</html>
